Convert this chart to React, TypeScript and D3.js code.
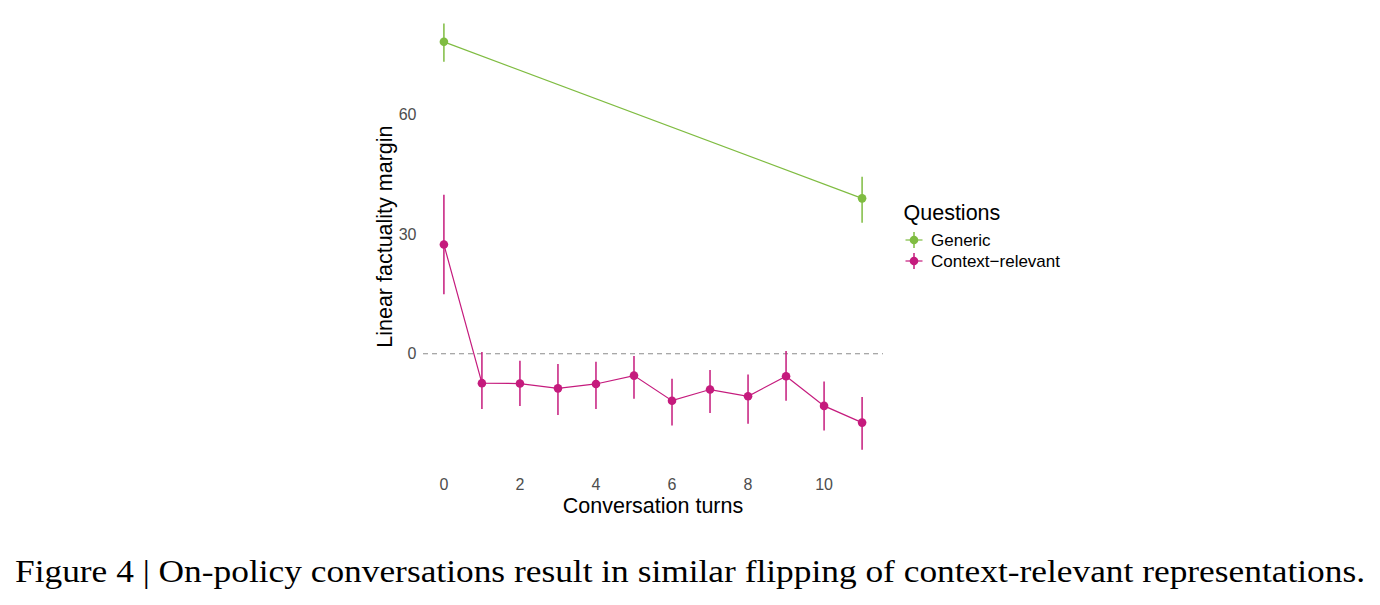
import React from "react";
import * as d3 from "d3";

// Conversation turns and the linear factuality margin per turn
const contextTurns = [0, 1, 2, 3, 4, 5, 6, 7, 8, 9, 10, 11];
const contextMean = [27.4, -7.4, -7.5, -8.7, -7.6, -5.5, -11.8, -9.0, -10.7, -5.65, -13.1, -17.3];
const contextLow = [14.9, -13.9, -13.1, -15.4, -13.9, -11.3, -18.0, -14.9, -17.6, -11.8, -19.3, -24.1];
const contextHigh = [39.9, 0.45, -1.8, -2.6, -2.0, -0.6, -6.3, -4.1, -5.2, 0.7, -7.0, -10.9];

const genericTurns = [0, 11];
const genericMean = [78.3, 39.0];
const genericLow = [73.3, 32.9];
const genericHigh = [82.9, 44.4];

const xTicks = [0, 2, 4, 6, 8, 10];
const yTicks = [0, 30, 60];

const seriesNames = ["Generic", "Context\u2212relevant"];
const seriesColors = ["#7fbc41", "#c51b7d"];

const caption =
  "Figure 4 | On-policy conversations result in similar flipping of context-relevant representations.";

const sans = "'Liberation Sans', Arial, Helvetica, sans-serif";

type Pt = { x: number; y: number; lo: number; hi: number };

function makeSeries(xs: number[], m: number[], lo: number[], hi: number[]): Pt[] {
  return xs.map((x, i) => ({ x, y: m[i], lo: lo[i], hi: hi[i] }));
}

export default function App() {
  const W = 1380;
  const H = 605;

  const x = d3.scaleLinear().domain([-0.55, 11.55]).range([423, 883]);
  const y = d3.scaleLinear().domain([-29.45, 88.25]).range([471, 2.2]);

  const series = [
    makeSeries(genericTurns, genericMean, genericLow, genericHigh),
    makeSeries(contextTurns, contextMean, contextLow, contextHigh),
  ];

  const line = d3
    .line<Pt>()
    .x((d) => x(d.x))
    .y((d) => y(d.y));

  const [x0, x1] = x.range();

  return (
    <svg
      width={W}
      height={H}
      viewBox={`0 0 ${W} ${H}`}
      style={{ position: "absolute", left: 0, top: 0, background: "#fff" }}
    >
      <rect x={0} y={0} width={W} height={H} fill="#fff" />

      {/* zero reference line */}
      <line
        x1={x0}
        x2={x1}
        y1={y(0)}
        y2={y(0)}
        stroke="#8c8c8c"
        strokeWidth={1.1}
        strokeDasharray="5,4"
      />

      {series.map((s, si) => (
        <g key={si}>
          <path d={line(s) || ""} fill="none" stroke={seriesColors[si]} strokeWidth={1.2} />
          {s.map((d, i) => (
            <line
              key={`e${i}`}
              x1={x(d.x)}
              x2={x(d.x)}
              y1={y(d.lo)}
              y2={y(d.hi)}
              stroke={seriesColors[si]}
              strokeWidth={1.5}
            />
          ))}
          {s.map((d, i) => (
            <circle key={`p${i}`} cx={x(d.x)} cy={y(d.y)} r={4.3} fill={seriesColors[si]} />
          ))}
        </g>
      ))}

      {/* y axis tick labels */}
      {yTicks.map((t) => (
        <text
          key={t}
          x={416.5}
          y={y(t)}
          dy="0.36em"
          textAnchor="end"
          fontFamily={sans}
          fontSize={16}
          fill="#4d4d4d"
        >
          {t}
        </text>
      ))}

      {/* x axis tick labels */}
      {xTicks.map((t) => (
        <text
          key={t}
          x={x(t)}
          y={490}
          textAnchor="middle"
          fontFamily={sans}
          fontSize={16}
          fill="#4d4d4d"
        >
          {t}
        </text>
      ))}

      {/* axis titles */}
      <text
        x={(x0 + x1) / 2}
        y={513}
        textAnchor="middle"
        fontFamily={sans}
        fontSize={21.5}
        fill="#000"
      >
        Conversation turns
      </text>
      <text
        transform={`translate(392,${(y(-29.45) + y(88.25)) / 2}) rotate(-90)`}
        textAnchor="middle"
        fontFamily={sans}
        fontSize={21.5}
        fill="#000"
      >
        Linear factuality margin
      </text>

      {/* legend */}
      <text x={903.5} y={220} fontFamily={sans} fontSize={21.5} fill="#000">
        Questions
      </text>
      {seriesNames.map((name, i) => {
        const ky = 240 + i * 21;
        const kx = 914;
        return (
          <g key={name}>
            <line x1={kx - 8.5} x2={kx + 8.5} y1={ky} y2={ky} stroke={seriesColors[i]} strokeWidth={1.2} />
            <line x1={kx} x2={kx} y1={ky - 8} y2={ky + 8} stroke={seriesColors[i]} strokeWidth={1.5} />
            <circle cx={kx} cy={ky} r={4.3} fill={seriesColors[i]} />
            <text x={931} y={ky} dy="0.36em" fontFamily={sans} fontSize={17} fill="#000">
              {name}
            </text>
          </g>
        );
      })}

      {/* caption */}
      <text
        x={15}
        y={582}
        fontFamily="'Liberation Serif', 'Times New Roman', serif"
        fontSize={31}
        fill="#000"
        textLength={1350}
        lengthAdjust="spacingAndGlyphs"
      >
        {caption}
      </text>
    </svg>
  );
}
